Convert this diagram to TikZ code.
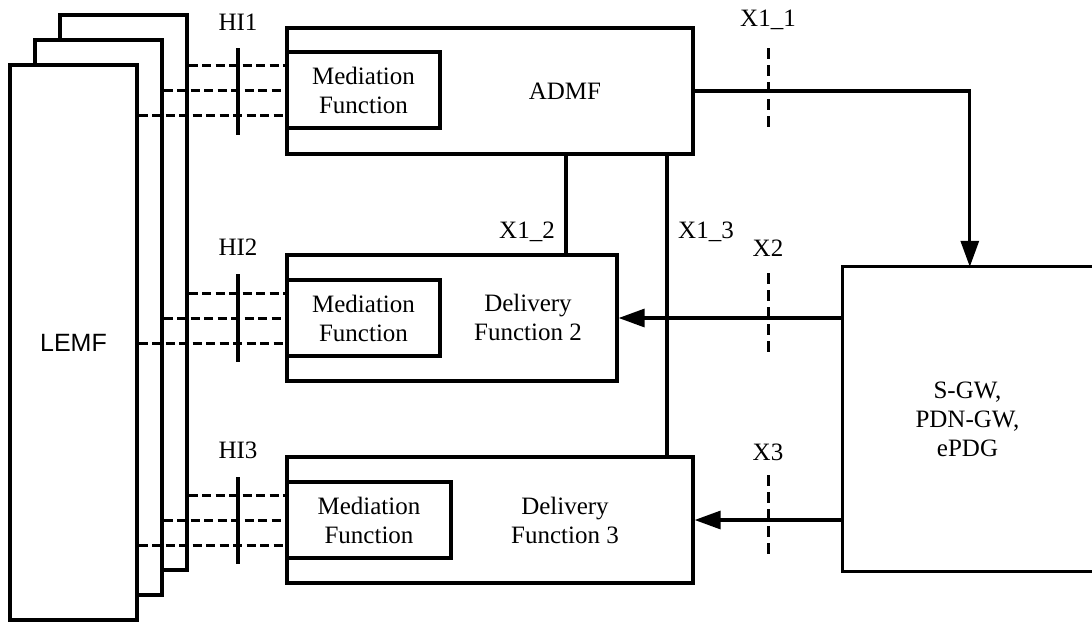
\documentclass[tikz,border=0pt]{standalone}
\usepackage{fontspec}
\setmainfont{Liberation Serif}
\newfontfamily\lsans{Liberation Sans}
\usetikzlibrary{arrows.meta,calc}
\begin{document}
\begin{tikzpicture}[x=1pt,y=-1pt,
  box/.style={draw, line width=3.2pt, fill=white, inner sep=0pt},
  lemfbox/.style={box, minimum width=127pt, minimum height=555pt},
  bigbox/.style={box, minimum height=126pt},
  medbox/.style={box, minimum height=76pt, align=center, font=\fontsize{25}{29}\selectfont},
  lbl/.style={inner sep=0pt, font=\fontsize{25}{29}\selectfont, align=center},
  conn/.style={line width=3.2pt},
  arr/.style={conn, -{Triangle[length=26pt,width=18pt]}},
  hidash/.style={line width=3pt, dash pattern=on 9pt off 4.5pt},
  xdash/.style={line width=3pt, dash pattern=on 11pt off 6pt},
  bar/.style={line width=3.2pt}
]
\useasboundingbox (0,0) rectangle (1092,622);

% LEMF stack
\node[lemfbox] (lemf3) at (123.5,292.5) {};
\node[lemfbox] (lemf2) at (98.5,317.5) {};
\node[lemfbox, font=\lsans\fontsize{25}{29}\selectfont] (lemf1) at (73.5,342.5) {LEMF};

% Main boxes
\node[bigbox, minimum width=406pt] (admf) at (490,91) {};
\node[lbl] (admft) at (565,91) {ADMF};
\node[medbox, minimum width=153pt] (med1) at (363.5,90) {Mediation\\Function};

\node[bigbox, minimum width=330pt] (df2) at (452,318) {};
\node[lbl] (df2t) at (528,317) {Delivery\\Function 2};
\node[medbox, minimum width=153pt] (med2) at (363.5,318) {Mediation\\Function};

\node[bigbox, minimum width=406pt] (df3) at (490,520) {};
\node[lbl] (df3t) at (565,520) {Delivery\\Function 3};
\node[medbox, minimum width=164pt] (med3) at (369,520) {Mediation\\Function};

% S-GW box (right side open)
\node[minimum width=249pt, minimum height=304pt, inner sep=0pt, align=center,
      font=\fontsize{25}{29}\selectfont] (sgw) at (967.5,419) {S-GW,\\PDN-GW,\\ePDG};
\draw[line width=3.2pt] ([xshift=5pt]sgw.north east) -- (sgw.north west) -- (sgw.south west) -- ([xshift=5pt]sgw.south east);

% HI dashed links
\foreach \m in {med1,med2,med3} {
  \coordinate (\m-a) at ($(\m.west)+(0,-25)$);
  \coordinate (\m-b) at (\m.west);
  \coordinate (\m-c) at ($(\m.west)+(0,25)$);
  \draw[hidash] (lemf3.east |- \m-a) -- (\m-a);
  \draw[hidash] (lemf2.east |- \m-b) -- (\m-b);
  \draw[hidash] (lemf1.east |- \m-c) -- (\m-c);
}
% HI bars
\draw[bar] (238,48) -- (238,135);
\draw[bar] (238,274) -- (238,362);
\draw[bar] (238,477) -- (238,564);
\node[lbl] (hi1) at (238,22) {HI1};
\node[lbl] (hi2) at (238,247) {HI2};
\node[lbl] (hi3) at (238,450) {HI3};

% X1 links
\coordinate (x12) at (566,0);
\coordinate (x13) at (667,0);
\draw[conn] (admf.south -| x12) -- (df2.north -| x12);
\draw[conn] (admf.south -| x13) -- (df3.north -| x13);
\node[lbl] (x12l) at (527,232) {X1\_2};
\node[lbl] (x13l) at (706,232) {X1\_3};

\coordinate (x11end) at ([xshift=127pt]sgw.north west);
\draw[arr] (admf.east) -| (x11end);
\draw[arr] (sgw.west |- df2) -- (df2.east);
\draw[arr] (sgw.west |- df3) -- (df3.east);

% X dashed markers
\draw[xdash] (768,48) -- (768,131);
\draw[xdash] (768,273) -- (768,358);
\draw[xdash] (768,475) -- (768,560);
\node[lbl] (x11l) at (768,20) {X1\_1};
\node[lbl] (x2l) at (768,248) {X2};
\node[lbl] (x3l) at (768,452) {X3};
\end{tikzpicture}
\end{document}
